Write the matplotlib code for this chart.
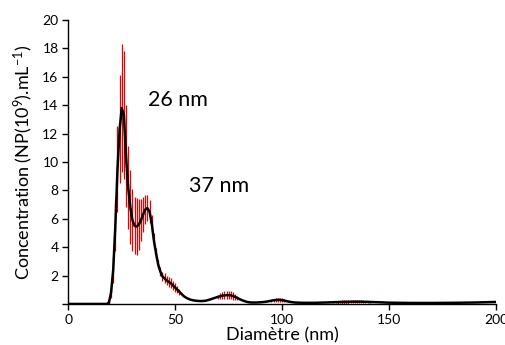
import matplotlib
matplotlib.use("Agg")
import matplotlib.pyplot as plt
import numpy as np

# ---- data ----
diameter = [0, 10, 17, 18, 19, 20, 21, 22, 23, 24, 25, 26, 27, 28, 29, 30,
            31, 32, 33, 34, 35, 36, 37, 38, 39, 40, 41, 42, 43, 44, 45, 46,
            47, 48, 49, 50, 51, 52, 53, 54, 55, 56, 57, 58, 59, 60, 61, 62,
            63, 64, 65, 66, 67, 68, 69, 70, 71, 72, 73, 74, 75, 76, 77, 78,
            79, 80, 81, 82, 83, 84, 85, 86, 87, 88, 89, 90, 91, 92, 93, 94,
            95, 96, 97, 98, 99, 100, 101, 102, 103, 104, 105, 106, 108, 110,
            115, 120, 122, 124, 125, 126, 127, 128, 129, 130, 131, 132, 133,
            134, 135, 136, 137, 138, 139, 140, 141, 145, 150, 160, 170, 180,
            190, 200]
concentration = [0, 0, 0, 0.0, 0.1, 0.8, 2.4, 5.5, 9.5, 12.3, 13.8, 13.3, 10.4,
                 8.2, 6.8, 5.9, 5.5, 5.45, 5.6, 5.9, 6.3, 6.65, 6.75, 6.5, 5.7,
                 4.5, 3.6, 2.8, 2.3, 1.95, 1.8, 1.65, 1.55, 1.45, 1.3, 1.15,
                 1.0, 0.85, 0.7, 0.55, 0.45, 0.37, 0.31, 0.27, 0.24, 0.22, 0.21,
                 0.2, 0.21, 0.22, 0.26, 0.3, 0.35, 0.4, 0.45, 0.5, 0.54, 0.58,
                 0.6, 0.62, 0.62, 0.6, 0.56, 0.5, 0.43, 0.35, 0.28, 0.22, 0.17,
                 0.13, 0.11, 0.1, 0.1, 0.1, 0.11, 0.12, 0.13, 0.15, 0.17, 0.2,
                 0.23, 0.26, 0.28, 0.29, 0.29, 0.27, 0.24, 0.2, 0.17, 0.14,
                 0.12, 0.1, 0.09, 0.08, 0.08, 0.1, 0.11, 0.12, 0.13, 0.13, 0.14,
                 0.14, 0.15, 0.15, 0.15, 0.16, 0.16, 0.16, 0.16, 0.16, 0.16,
                 0.15, 0.15, 0.15, 0.14, 0.12, 0.09, 0.07, 0.07, 0.08, 0.1, 0.14]
error = [0, 0, 0, 0, 0.1, 0.4, 0.9, 1.8, 3.0, 3.8, 4.5, 4.5, 3.6, 2.9, 2.6,
         2.2, 2.0, 2.0, 1.8, 1.5, 1.2, 1.0, 0.9, 0.8, 0.6, 0.5, 0.35, 0.3, 0.3,
         0.3, 0.35, 0.35, 0.35, 0.35, 0.3, 0.3, 0.25, 0.2, 0, 0, 0, 0, 0, 0,
         0, 0, 0, 0, 0, 0, 0, 0, 0, 0, 0, 0.15, 0.2, 0.25, 0.28, 0.3, 0.3,
         0.28, 0.25, 0.2, 0.15, 0, 0, 0, 0, 0, 0, 0, 0, 0, 0, 0, 0, 0, 0, 0,
         0.08, 0.12, 0.15, 0.15, 0.15, 0.12, 0.1, 0, 0, 0, 0, 0, 0, 0, 0, 0,
         0, 0.08, 0.09, 0.1, 0.1, 0.11, 0.12, 0.12, 0.12, 0.12, 0.12, 0.12,
         0.11, 0.11, 0.1, 0.1, 0.09, 0.08, 0.08, 0, 0, 0, 0, 0, 0, 0]
x_ticks = [0, 50, 100, 150, 200]
y_ticks = [0, 2, 4, 6, 8, 10, 12, 14, 16, 18, 20]
y_tick_labels = ["", "2", "4", "6", "8", "10", "12", "14", "16", "18", "20"]
annotations = [("26 nm", 37.5, 14.4), ("37 nm", 56.5, 8.3)]
x_label = "Diamètre (nm)"
y_label = r"Concentration (NP(10$^{9}$).mL$^{-1}$)"

plt.rcParams["font.family"] = ["Lato", "DejaVu Sans"]
plt.rcParams["mathtext.fontset"] = "custom"
plt.rcParams["mathtext.rm"] = "Lato"
plt.rcParams["mathtext.it"] = "Lato:italic"
plt.rcParams["mathtext.default"] = "regular"

fig = plt.figure(figsize=(5.06, 3.45), dpi=100)
ax = fig.add_axes([0.135, 0.119, 0.845, 0.823])

d = np.array(diameter)
c = np.array(concentration)
e = np.array(error)
m = e > 0
ax.errorbar(d[m], c[m], yerr=e[m], fmt="none", ecolor="#e60000",
            elinewidth=0.9, capsize=0, zorder=2)
ax.plot(d, c, color="black", lw=1.8, zorder=3)

ax.set_xlim(0, 200)
ax.set_ylim(0, 20)
ax.set_xticks(x_ticks)
ax.set_yticks(y_ticks)
ax.set_yticklabels(y_tick_labels)
ax.tick_params(direction="out", length=4, width=1, labelsize=10,
               colors="black", pad=3)
for s in ["top", "right"]:
    ax.spines[s].set_visible(False)
for s in ["left", "bottom"]:
    ax.spines[s].set_linewidth(1.0)
    ax.spines[s].set_color("black")

ax.set_xlabel(x_label, fontsize=13, labelpad=1)
ax.set_ylabel(y_label, fontsize=13, labelpad=5)

for txt, x, y in annotations:
    ax.text(x, y, txt, fontsize=15.5, va="center", ha="left")

fig.savefig("out.png", dpi=100)
